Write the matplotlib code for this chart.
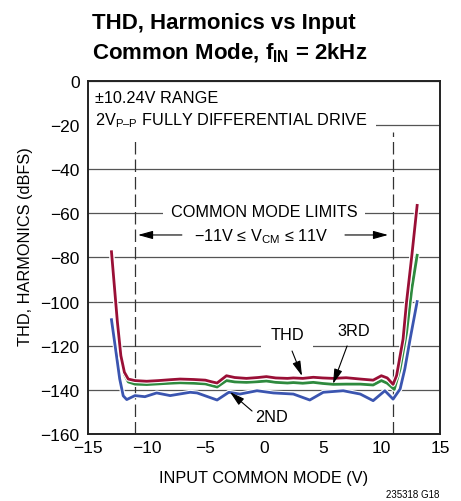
import matplotlib
matplotlib.use('Agg')
import matplotlib.pyplot as plt
import matplotlib.patheffects as pe

FONT = ['Liberation Sans', 'DejaVu Sans']
plt.rcParams['font.family'] = FONT
plt.rcParams['mathtext.fontset'] = 'custom'
plt.rcParams['mathtext.rm'] = 'Liberation Sans'
plt.rcParams['mathtext.bf'] = 'Liberation Sans:bold'

# data
thd_v = [-13, -12.5, -12.2, -11.9, -11.57, -11, -10, -9, -8, -7.15, -6, -5, -4.5, -4, -3.2, -2.5,
         -1.5, -0.5, 0.2, 1, 2, 2.5, 3.3, 4.2, 5, 5.9, 7, 8.2, 9.3, 10, 10.5, 11, 11.3, 11.85,
         12.15, 12.6, 13.05]
thd_db = [-77.4, -109, -124.5, -132, -135.1, -135.8, -136.1, -135.8, -135.4, -135.1, -135.3, -135.6,
          -136.3, -136.9, -133.6, -134.4, -134.8, -134.4, -134.0, -134.6, -134.8, -134.6, -134.8,
          -134.3, -134.6, -134.8, -134.5, -135.1, -135.6, -133.6, -134.6, -137.5, -133.5, -117,
          -100, -79, -56.4]

h3_v = [-13, -12.5, -12.2, -11.9, -11.57, -11, -10, -9, -8, -7.15, -6, -5, -4.5, -4, -3.2, -2.5,
        -1.5, -0.5, 0.2, 1, 2, 2.5, 3.3, 4.2, 5, 5.9, 7, 8.2, 9.3, 10, 10.5, 11.1, 11.6, 12.15,
        12.6, 13.05]
h3_db = [-77.4, -109, -125, -133, -136.4, -137.4, -137.6, -137.3, -137.0, -136.8, -137.0, -137.3,
         -138.0, -138.7, -135.8, -136.4, -136.6, -136.3, -136.0, -136.6, -136.9, -136.7, -137.0,
         -136.6, -137.1, -137.5, -137.4, -137.4, -137.8, -135.8, -137.0, -139.8, -130.5, -114,
         -94, -79]

h2_v = [-13, -12.65, -12.3, -12.0, -11.7, -11.0, -10.15, -9.15, -8.0, -6.3, -5.7, -4.0, -3.0,
        -2.05, -0.6, 0.8, 2.5, 3.9, 5.05, 6.75, 8.2, 9.3, 10.3, 11.0, 11.6, 12.0, 12.45, 13.05]
h2_db = [-108.2, -121.5, -135, -142.7, -144.4, -142.6, -143.1, -141.4, -142.6, -141.1, -141.4,
         -144.6, -141.1, -141.9, -140.4, -141.4, -141.9, -144.6, -141.1, -140.4, -141.9, -144.9,
         -140.4, -144.2, -139.6, -130.5, -117, -100]

x_ticks = [-15, -10, -5, 0, 5, 10, 15]
y_ticks = [0, -20, -40, -60, -80, -100, -120, -140, -160]
cm_limits = [-11, 11]

fig = plt.figure(figsize=(4.61, 5.02), dpi=100)
ax = fig.add_axes([0.1909, 0.1335, 0.7636, 0.7032])

ax.set_xlim(-15, 15)
ax.set_ylim(-160, 0)
ax.set_xticks(x_ticks)
ax.set_yticks(y_ticks)
ax.tick_params(axis='y', length=0, labelsize=12.5, pad=6)
ax.tick_params(axis='x', length=0, labelsize=12.5, pad=4)
ax.set_axisbelow(True)
ax.yaxis.grid(True, color='#555555', linewidth=0.9)
for s in ax.spines.values():
    s.set_linewidth(1.4)
    s.set_color('#222222')
    s.set_zorder(5)

for v in cm_limits:
    ax.plot([v, v], [-160, -23], color='#333333', lw=0.9, dashes=(10, 4), zorder=1.5)

halo = [pe.Stroke(linewidth=3.6, foreground='white'), pe.Normal()]
ax.plot(h2_v, h2_db, color='#3b55b0', lw=2.0, path_effects=halo, zorder=3)
ax.plot(h3_v, h3_db, color='#2e8a3e', lw=2.0, path_effects=halo, zorder=3.1)
ax.plot(thd_v, thd_db, color='#9a0f36', lw=2.0, path_effects=halo, zorder=3.2)

fs = 11.7
ax.text(-14.4, -7.7, '±10.24V RANGE', fontsize=fs, va='center', ha='left')
ax.text(-14.4, -17.7, '2V$_{\\mathrm{P–P}}$ FULLY DIFFERENTIAL DRIVE', fontsize=fs, va='center',
        ha='left', zorder=2.2,
        bbox=dict(facecolor='white', edgecolor='none', boxstyle='square,pad=0.5'))
ax.text(0, -59, 'COMMON MODE LIMITS', fontsize=fs, va='center', ha='center', zorder=2.2,
        bbox=dict(facecolor='white', edgecolor='none', boxstyle='square,pad=0.45'))
ax.text(-0.26, -70.3, '−11V ≤ V$_{\\mathrm{CM}}$ ≤ 11V', fontsize=fs, va='center', ha='center')
arr = dict(arrowstyle='-|>,head_length=0.9,head_width=0.25', color='black', lw=0.8,
           shrinkA=0, shrinkB=0)
ax.annotate('', xy=(-10.74, -69.8), xytext=(-7.0, -69.8), arrowprops=arr)
ax.annotate('', xy=(10.57, -69.8), xytext=(6.9, -69.8), arrowprops=arr)

ax.text(1.96, -114.7, 'THD', fontsize=fs, va='center', ha='center', zorder=2.2,
        bbox=dict(facecolor='white', edgecolor='none', boxstyle='square,pad=0.55'))
ax.text(7.67, -113.3, '3RD', fontsize=fs, va='center', ha='center')
ax.text(0.6, -151.9, '2ND', fontsize=fs, va='center', ha='center')
ax.annotate('', xy=(3.24, -133.7), xytext=(2.39, -122.4), arrowprops=arr, zorder=4)
ax.annotate('', xy=(5.88, -137.3), xytext=(7.08, -120.1), arrowprops=arr, zorder=4)
ax.annotate('', xy=(-2.9, -141), xytext=(-1.02, -149.6), arrowprops=arr, zorder=4)

ax.set_xlabel('INPUT COMMON MODE (V)', fontsize=fs)
ax.xaxis.set_label_coords(0.5, -0.103)
ax.set_ylabel('THD, HARMONICS (dBFS)', fontsize=fs)
ax.yaxis.set_label_coords(-0.156, 0.533)

fig.text(92 / 461, 1 - 23 / 502, 'THD, Harmonics vs Input', fontsize=16, fontweight='bold',
         va='center', ha='left')
fig.text(92 / 461, 1 - 53 / 502, 'Common Mode, f$_{\\mathbf{IN}}$ = 2kHz', fontsize=16,
         fontweight='bold', va='center', ha='left')
fig.text(0.953, 1 - 495 / 502, '235318 G18', fontsize=7, va='center', ha='right')

fig.savefig('out.png', dpi=100)
